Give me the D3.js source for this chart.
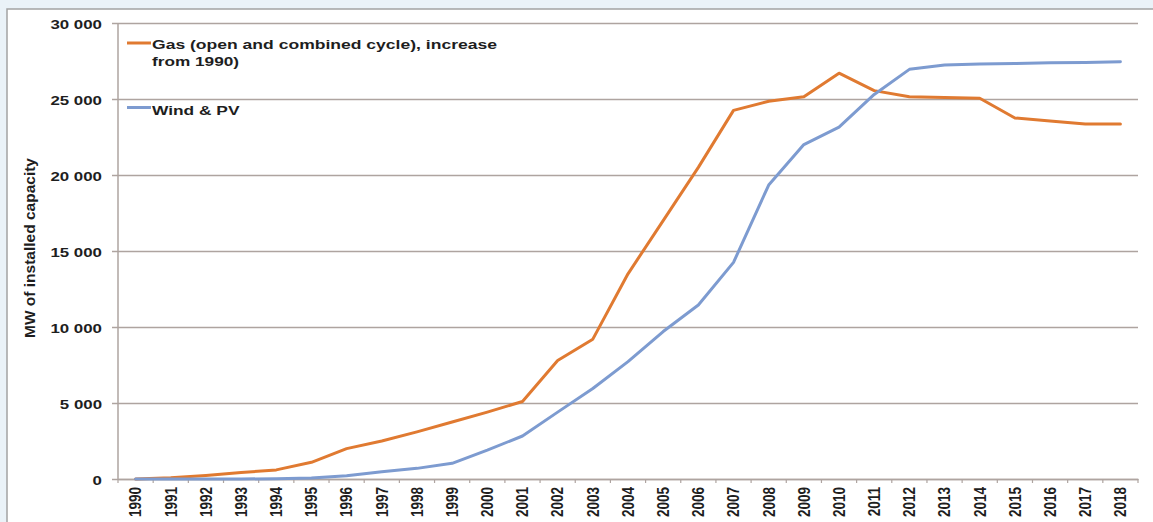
<!DOCTYPE html>
<html>
<head>
<meta charset="utf-8">
<script src="https://cdn.jsdelivr.net/npm/d3@7"></script>
<style>
  html, body { margin: 0; padding: 0; background: #eaf2f8; }
  svg { display: block; }
  text { font-family: "Liberation Sans", Arial, sans-serif; font-weight: bold; fill: #1e1e1e; }
</style>
</head>
<body>
<svg id="chart" width="1153" height="522"></svg>
<script>
// Installed capacity, MW
const years = ["1990","1991","1992","1993","1994","1995","1996","1997","1998","1999",
               "2000","2001","2002","2003","2004","2005","2006","2007","2008","2009",
               "2010","2011","2012","2013","2014","2015","2016","2017","2018"];
const gasValues = [0, 80, 230, 420, 600, 1100, 2000, 2500, 3100, 3750,
                   4400, 5100, 7800, 9200, 13500, 17000, 20500, 24250, 24850, 25150,
                   26700, 25550, 25150, 25100, 25050, 23750, 23550, 23350, 23350];
const windPvValues = [0, 0, 0, 0, 20, 60, 220, 470, 700, 1030,
                      1900, 2830, 4400, 5950, 7720, 9700, 11450, 14250, 19340, 22000,
                      23150, 25300, 26950, 27240, 27300, 27330, 27380, 27400, 27450];
const yTickValues = [0, 5000, 10000, 15000, 20000, 25000, 30000];
const gasLabelLines = ["Gas (open and combined cycle), increase", "from 1990)"];
const windPvLabel = "Wind & PV";
const yTitle = "MW of installed capacity";

const gasColor = "#e07a31";
const windColor = "#7d9bd0";
const gridColor = "#aea4a0";

const plot = { left: 118, right: 1138, top: 23, bottom: 479 };
const svg = d3.select("#chart");

// white panel with its grey frame
svg.append("rect").attr("x", 7).attr("y", 9).attr("width", 1146).attr("height", 513).attr("fill", "#ffffff");
svg.append("path").attr("d", "M7,522V9H1153").attr("fill", "none").attr("stroke", "#a3a3a3").attr("stroke-width", 1.5);

const x = d3.scaleBand().domain(years).range([plot.left, plot.right]).padding(0);
const y = d3.scaleLinear().domain([0, 30000]).range([plot.bottom, plot.top]);

const fmt = d3.formatLocale({ decimal: ",", thousands: " ", grouping: [3], currency: ["", ""] }).format(",d");

// horizontal gridlines + value labels
const gY = svg.append("g").attr("transform", "translate(112,0)")
  .call(d3.axisLeft(y).tickValues(yTickValues).tickFormat(fmt)
        .tickSize(-(plot.right - 112)).tickPadding(8));
gY.select(".domain").remove();
gY.selectAll(".tick line").attr("stroke", gridColor).attr("stroke-width", 1.5);
gY.selectAll(".tick text")
  .attr("font-size", 13.5)
  .attr("dy", "0.42em")
  .attr("transform", "scale(1.25,1)");

// vertical value axis
svg.append("line").attr("x1", plot.left).attr("x2", plot.left)
  .attr("y1", plot.top).attr("y2", plot.bottom)
  .attr("stroke", gridColor).attr("stroke-width", 1.5);

// category axis with year labels
const gX = svg.append("g").attr("transform", `translate(0,${plot.bottom})`)
  .call(d3.axisBottom(x).tickSize(0));
gX.select(".domain").attr("stroke", gridColor).attr("stroke-width", 1.5);
gX.selectAll(".tick text")
  .attr("font-size", 13.5)
  .attr("text-anchor", "end")
  .attr("transform", "scale(1.2,1) rotate(-90)")
  .attr("x", -8).attr("y", 0).attr("dy", "0.36em");

// boundary tick marks between years
const boundaries = years.map(d => x(d)).concat([x.range()[1]]);
svg.append("g").selectAll("line").data(boundaries).join("line")
  .attr("x1", d => d).attr("x2", d => d)
  .attr("y1", plot.bottom).attr("y2", plot.bottom + 4)
  .attr("stroke", gridColor).attr("stroke-width", 1.2);

// axis title
svg.append("text")
  .attr("transform", "translate(35,248) rotate(-90)")
  .attr("text-anchor", "middle")
  .attr("font-size", 14)
  .attr("textLength", 180).attr("lengthAdjust", "spacingAndGlyphs")
  .text(yTitle);

// series lines
const line = d3.line()
  .x((d, i) => x(years[i]) + x.bandwidth() / 2)
  .y(d => y(d));

svg.append("path").datum(gasValues)
  .attr("d", line).attr("fill", "none")
  .attr("stroke", gasColor).attr("stroke-width", 3)
  .attr("stroke-linejoin", "round").attr("stroke-linecap", "round");

svg.append("path").datum(windPvValues)
  .attr("d", line).attr("fill", "none")
  .attr("stroke", windColor).attr("stroke-width", 3)
  .attr("stroke-linejoin", "round").attr("stroke-linecap", "round");

// legend
const legend = svg.append("g");
legend.append("line").attr("x1", 127).attr("x2", 151).attr("y1", 43).attr("y2", 43)
  .attr("stroke", gasColor).attr("stroke-width", 3);
legend.append("text").attr("x", 152).attr("y", 48.5).attr("font-size", 13.5)
  .attr("textLength", 345).attr("lengthAdjust", "spacingAndGlyphs")
  .text(gasLabelLines[0]);
legend.append("text").attr("x", 152).attr("y", 66).attr("font-size", 13.5)
  .attr("textLength", 87).attr("lengthAdjust", "spacingAndGlyphs")
  .text(gasLabelLines[1]);
legend.append("line").attr("x1", 127).attr("x2", 151).attr("y1", 107.5).attr("y2", 107.5)
  .attr("stroke", windColor).attr("stroke-width", 3);
legend.append("text").attr("x", 152).attr("y", 115).attr("font-size", 13.5)
  .attr("textLength", 87.5).attr("lengthAdjust", "spacingAndGlyphs")
  .text(windPvLabel);
</script>
</body>
</html>
